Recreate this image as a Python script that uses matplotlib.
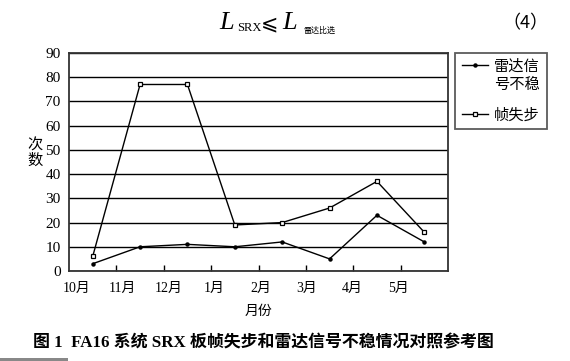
import matplotlib
matplotlib.use("Agg")
import matplotlib.pyplot as plt
from matplotlib.patches import Rectangle

months = ["10月", "11月", "12月", "1月", "2月", "3月", "4月", "5月"]
radar_unstable = [3, 10, 11, 10, 12, 5, 23, 12]
frame_desync = [6, 77, 77, 19, 20, 26, 37, 16]
yticks = [0, 10, 20, 30, 40, 50, 60, 70, 80, 90]

FAM = ["Liberation Serif", "Noto Sans CJK SC", "DejaVu Sans"]
plt.rcParams["font.family"] = FAM

W, H = 570, 361
fig = plt.figure(figsize=(W / 100, H / 100), dpi=100)

def fx(px):
    return px / W

def fy(py):
    return 1 - py / H

ax = fig.add_axes([fx(69), fy(271), (448 - 69) / W, (271 - 53) / H])
x = list(range(len(months)))
ax.plot(x, radar_unstable, color="black", lw=1.0, marker="o", ms=2.2,
        mfc="black", mec="black", label="雷达信\n号不稳")
ax.plot(x, frame_desync, color="black", lw=1.0, marker="s", ms=3.2,
        mfc="white", mec="black", mew=0.9, label="帧失步")

ax.set_xlim(-0.5, len(months) - 0.5)
ax.set_ylim(0, 90)
ax.set_yticks(yticks)
ax.set_yticklabels([str(v) for v in yticks], fontsize=11)
ax.tick_params(axis="y", length=0, pad=6)
ax.yaxis.grid(True, color="black", lw=1.0)
ax.set_axisbelow(True)

# category boundary ticks (inside), labels shifted slightly left
ax.xaxis.remove_overlapping_locs = False
ax.set_xticks([i + 0.5 for i in range(len(months) - 1)])
ax.set_xticklabels([])
ax.tick_params(axis="x", which="major", direction="in", length=4, width=1.0)
ax.set_xticks([i - 0.33 - 0.032 * i for i in x], minor=True)
ax.set_xticklabels(months, minor=True, fontsize=10)
ax.tick_params(axis="x", which="minor", length=0, pad=8)

for s in ax.spines.values():
    s.set_color("#333333")
    s.set_linewidth(1.3)

ax.set_xlabel("月份", fontsize=10, labelpad=7)
fig.text(fx(35), fy(153), "次\n数", fontsize=11, ha="center", va="center",
         linespacing=1.1)

leg = ax.legend(loc="upper left", bbox_to_anchor=(fx(455), fy(53)),
                bbox_transform=fig.transFigure, frameon=True, fancybox=False,
                edgecolor="#333333", fontsize=11, handlelength=1.7,
                handletextpad=0.4, labelspacing=1.1, borderpad=0.45,
                borderaxespad=0)
leg.get_frame().set_linewidth(1.3)
for t in leg.get_texts():
    t.set_multialignment("left")
    t.set_linespacing(1.3)
# align the first handle with the first text line
col = leg._legend_handle_box.get_children()[0]
col.get_children()[0].align = "top"

# formula line at top
fig.text(fx(219), fy(29), "L", fontsize=19, style="italic", va="baseline",
         family=["Liberation Serif"])
fig.text(fx(237), fy(31), "SRX", fontsize=9, va="baseline",
         family=["Liberation Serif"])
fig.text(fx(261), fy(29), "⩽", fontsize=15, va="baseline",
         family=["DejaVu Serif", "DejaVu Sans"])
fig.text(fx(282), fy(29), "L", fontsize=19, style="italic", va="baseline",
         family=["Liberation Serif"])
fig.text(fx(303), fy(33), "雷达比选", fontsize=5.8, va="baseline",
         family=["Noto Sans CJK SC"])
fig.text(fx(525), fy(23), "（4）", fontsize=13, ha="center", va="center",
         family=["Noto Sans CJK SC"])

fig.text(fx(263), fy(343), "图 1  FA16 系统 SRX 板帧失步和雷达信号不稳情况对照参考图",
         fontsize=12.2, ha="center", va="center", fontweight="bold")

fig.patches.append(Rectangle((0, 0), fx(68), 3 / H, transform=fig.transFigure,
                             facecolor="#888888", edgecolor="none"))

fig.savefig("out.png", dpi=100, facecolor="white")
